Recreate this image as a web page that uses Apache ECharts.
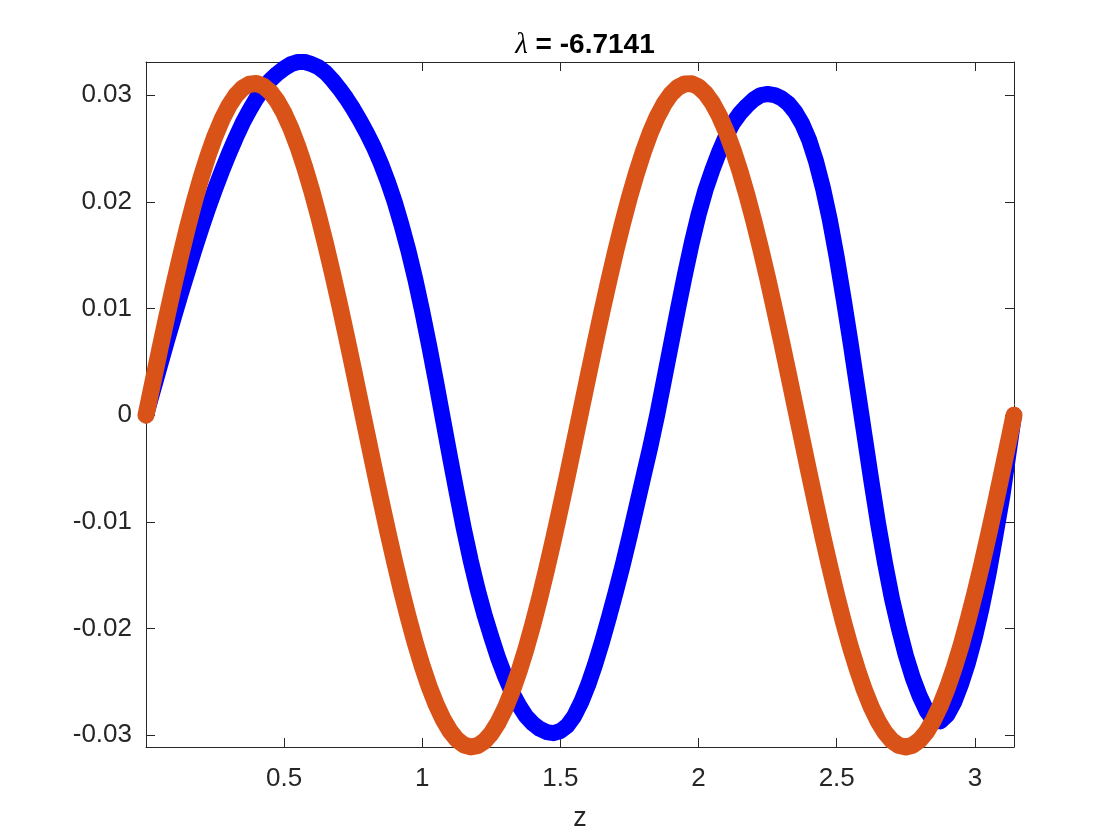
<!DOCTYPE html>
<html>
<head>
<meta charset="utf-8">
<script src="https://cdn.jsdelivr.net/npm/echarts@6/dist/echarts.min.js"></script>
<style>
html,body{margin:0;padding:0;background:#fff;}
#chart{width:1120px;height:840px;}
</style>
</head>
<body>
<div id="chart"></div>
<script>
// z positions (sampled along the curves)
const zValues = [
  0, 0.025, 0.05, 0.075, 0.10, 0.125, 0.15, 0.175, 0.20, 0.225,
  0.25, 0.275, 0.30, 0.325, 0.35, 0.375, 0.40, 0.425, 0.45, 0.475,
  0.50, 0.525, 0.55, 0.575, 0.60, 0.625, 0.65, 0.675, 0.70, 0.725,
  0.75, 0.775, 0.80, 0.825, 0.85, 0.875, 0.90, 0.925, 0.95, 0.975,
  1.00, 1.025, 1.05, 1.075, 1.10, 1.125, 1.15, 1.175, 1.20, 1.225,
  1.25, 1.275, 1.30, 1.325, 1.35, 1.375, 1.40, 1.425, 1.45, 1.475,
  1.50, 1.525, 1.55, 1.575, 1.60, 1.625, 1.65, 1.675, 1.70, 1.725,
  1.75, 1.775, 1.80, 1.825, 1.85, 1.875, 1.90, 1.925, 1.95, 1.975,
  2.00, 2.025, 2.05, 2.075, 2.10, 2.125, 2.15, 2.175, 2.20, 2.225,
  2.25, 2.275, 2.30, 2.325, 2.35, 2.375, 2.40, 2.425, 2.45, 2.475,
  2.50, 2.525, 2.55, 2.575, 2.60, 2.625, 2.65, 2.675, 2.70, 2.725,
  2.75, 2.775, 2.80, 2.825, 2.85, 2.875, 2.90, 2.925, 2.95, 2.975,
  3.00, 3.025, 3.05, 3.075, 3.10, 3.125, 3.1416];

// blue '+' series
const blueValues = [
  0, 0.0023, 0.0046, 0.0069, 0.0091, 0.0113, 0.0134, 0.0155, 0.0175, 0.0194,
  0.0212, 0.0229, 0.0245, 0.0260, 0.0274, 0.0286, 0.0297, 0.0306, 0.0314, 0.0320,
  0.0325, 0.0329, 0.0331, 0.0331, 0.0329, 0.0326, 0.0321, 0.0314, 0.0306, 0.0297,
  0.0287, 0.0276, 0.0264, 0.0251, 0.0236, 0.0219, 0.0200, 0.0178, 0.0154, 0.0127,
  0.0097, 0.0065, 0.0031, -0.0004, -0.0039, -0.0073, -0.0106, -0.0136, -0.0163, -0.0187,
  -0.0208, -0.0228, -0.0245, -0.0260, -0.0272, -0.0282, -0.0289, -0.0294, -0.0297, -0.0298,
  -0.0296, -0.0291, -0.0282, -0.0269, -0.0253, -0.0234, -0.0213, -0.0190, -0.0166, -0.0141,
  -0.0114, -0.0086, -0.0058, -0.0030, 0.0000, 0.0033, 0.0066, 0.0099, 0.0131, 0.0161,
  0.0188, 0.0211, 0.0230, 0.0247, 0.0262, 0.0274, 0.0283, 0.0290, 0.0296, 0.0300,
  0.0301, 0.0300, 0.0297, 0.0292, 0.0284, 0.0273, 0.0258, 0.0238, 0.0213, 0.0183,
  0.0148, 0.0109, 0.0068, 0.0025, -0.0018, -0.0061, -0.0102, -0.0139, -0.0172, -0.0200,
  -0.0225, -0.0246, -0.0263, -0.0277, -0.0286, -0.0287, -0.0281, -0.0269, -0.0252, -0.0232,
  -0.0208, -0.0180, -0.0148, -0.0112, -0.0075, -0.0030, 0];

// orange 'o' series
const orangeValues = [
  0, 0.00310, 0.00618, 0.00919, 0.01211, 0.01491, 0.01756, 0.02004, 0.02231, 0.02436,
  0.02617, 0.02772, 0.02899, 0.02997, 0.03065, 0.03102, 0.03109, 0.03084, 0.03029, 0.02943,
  0.02828, 0.02685, 0.02514, 0.02319, 0.02101, 0.01861, 0.01603, 0.01329, 0.01042, 0.00744,
  0.00439, 0.00129, -0.00182, -0.00491, -0.00795, -0.01091, -0.01376, -0.01648, -0.01903, -0.02139,
  -0.02354, -0.02545, -0.02711, -0.02849, -0.02959, -0.03040, -0.03090, -0.03110, -0.03098, -0.03055,
  -0.02982, -0.02879, -0.02748, -0.02588, -0.02403, -0.02194, -0.01963, -0.01713, -0.01445, -0.01163,
  -0.00869, -0.00567, -0.00258, 0.00052, 0.00362, 0.00669, 0.00969, 0.01259, 0.01537, 0.01799,
  0.02043, 0.02267, 0.02468, 0.02645, 0.02795, 0.02917, 0.03010, 0.03073, 0.03105, 0.03107,
  0.03077, 0.03016, 0.02926, 0.02806, 0.02658, 0.02483, 0.02284, 0.02062, 0.01819, 0.01558,
  0.01282, 0.00992, 0.00693, 0.00387, 0.00077, -0.00234, -0.00542, -0.00845, -0.01140, -0.01423,
  -0.01692, -0.01944, -0.02177, -0.02387, -0.02575, -0.02736, -0.02870, -0.02975, -0.03051, -0.03096,
  -0.03110, -0.03093, -0.03046, -0.02968, -0.02859, -0.02723, -0.02559, -0.02370, -0.02158, -0.01922,
  -0.01669, -0.01400, -0.01114, -0.00819, -0.00515, -0.00206, 0];

const xTickLabels = ['0.5', '1', '1.5', '2', '2.5', '3'];
const yTickLabels = ['-0.03', '-0.02', '-0.01', '0', '0.01', '0.02', '0.03'];
const titleLambda = 'λ';
const titleRest = ' = -6.7141';
const xName = 'z';

const X_MIN = 0, X_MAX = 3.1416, Y_MIN = -0.0311, Y_MAX = 0.0331;
const FONT = '"Liberation Sans", Arial, Helvetica, sans-serif';
const AX = '#262626';

function fmtX(v) {
  const s = String(Math.round(v * 1000) / 1000);
  return xTickLabels.indexOf(s) >= 0 ? s : '';
}
function fmtY(v) {
  let r = Math.round(v * 100) / 100;
  if (Math.abs(v - r) > 1e-7) return '';
  if (r === 0) r = 0;
  const s = String(r);
  return yTickLabels.indexOf(s) >= 0 ? s : '';
}

const blueData = zValues.map((z, i) => [z, blueValues[i]]);
const orangeData = zValues.map((z, i) => [z, orangeValues[i]]);

const baseX = {
  type: 'value', min: X_MIN, max: X_MAX, interval: 0.5,
  axisLine: { show: true, onZero: false, lineStyle: { color: AX, width: 1 } },
  axisTick: { show: true, inside: true, length: 9, lineStyle: { color: AX } },
  splitLine: { show: false }
};
const baseY = {
  type: 'value', min: Y_MIN, max: Y_MAX, splitNumber: 6,
  axisLine: { show: true, onZero: false, lineStyle: { color: AX, width: 1 } },
  axisTick: { show: true, inside: true, length: 9, lineStyle: { color: AX } },
  splitLine: { show: false }
};

const chart = echarts.init(document.getElementById('chart'), null, { renderer: 'canvas' });
chart.setOption({
  animation: false,
  backgroundColor: '#ffffff',
  title: {
    text: '{l|' + titleLambda + '}{t|' + titleRest + '}', left: 580, top: 26, textAlign: 'center',
    textStyle: {
      fontFamily: FONT, fontSize: 28, fontWeight: 'bold', color: '#000',
      rich: {
        l: { fontFamily: '"Liberation Serif", "DejaVu Serif", serif', fontSize: 29, fontWeight: 'normal', fontStyle: 'italic', color: '#000' },
        t: { fontFamily: FONT, fontSize: 28, fontWeight: 'bold', color: '#000' }
      }
    }
  },
  grid: { left: 146, right: 106, top: 62, bottom: 93, containLabel: false },
  xAxis: [
    Object.assign({}, baseX, {
      position: 'bottom',
      name: xName, nameLocation: 'middle', nameGap: 58,
      nameTextStyle: { fontFamily: FONT, fontSize: 27, color: AX },
      axisLabel: { show: true, margin: 19, fontFamily: FONT, fontSize: 26, color: AX,
        formatter: fmtX, showMinLabel: true, showMaxLabel: true, hideOverlap: false }
    }),
    Object.assign({}, baseX, { position: 'top', axisLabel: { show: false } })
  ],
  yAxis: [
    Object.assign({}, baseY, {
      position: 'left',
      axisLabel: { show: true, margin: 14, fontFamily: FONT, fontSize: 26, color: AX,
        formatter: fmtY, hideOverlap: false }
    }),
    Object.assign({}, baseY, { position: 'right', axisLabel: { show: false } })
  ],
  series: [
    {
      type: 'line', data: blueData, xAxisIndex: 0, yAxisIndex: 0,
      symbol: 'none', smooth: false, clip: false, z: 2,
      lineStyle: { color: '#0000FF', width: 16, cap: 'round', join: 'round' }
    },
    {
      type: 'line', data: orangeData, xAxisIndex: 0, yAxisIndex: 0,
      symbol: 'none', smooth: false, clip: false, z: 3,
      lineStyle: { color: '#D95319', width: 17, cap: 'round', join: 'round' }
    }
  ]
});
</script>
</body>
</html>
